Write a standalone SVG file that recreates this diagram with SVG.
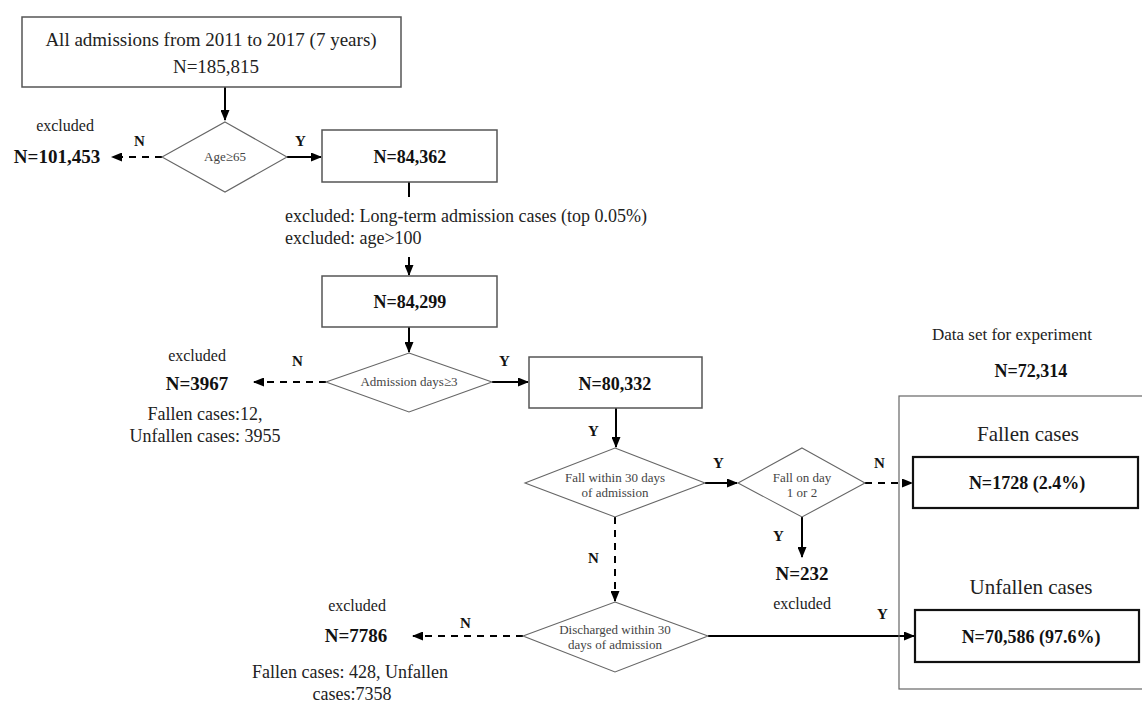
<svg xmlns="http://www.w3.org/2000/svg" width="1142" height="702" viewBox="0 0 1142 702">
<style>
text{font-family:"Liberation Serif","Times New Roman",serif;fill:#222}
.c{text-anchor:middle}
.b{font-weight:bold;fill:#111}
.lbl{font-weight:bold;font-size:15px;fill:#111}
.box{fill:#fff;stroke:#555;stroke-width:1.5}
.fbox{fill:#fff;stroke:#111;stroke-width:2.2}
.dia{fill:#fff;stroke:#666;stroke-width:1.1}
.dt{font-size:13px;fill:#444}
.ln{fill:none;stroke:#000;stroke-width:2}
.ds{fill:none;stroke:#000;stroke-width:2;stroke-dasharray:7 6}
</style>
<defs>
<marker id="ah" markerUnits="userSpaceOnUse" markerWidth="11" markerHeight="9" refX="10" refY="4.5" orient="auto">
<path d="M0,0 L11,4.5 L0,9 z" fill="#000"/>
</marker>
</defs>

<g id="connectors">
<path class="ln" d="M225,87 V120" marker-end="url(#ah)"/>
<path class="ln" d="M287,157 H321" marker-end="url(#ah)"/>
<path class="ds" d="M162,157 H112" marker-end="url(#ah)"/>
<path class="ln" d="M409,182 V197"/>
<path class="ln" d="M409,257 V275" marker-end="url(#ah)"/>
<path class="ln" d="M409,327 V352" marker-end="url(#ah)"/>
<path class="ln" d="M492,382 H528" marker-end="url(#ah)"/>
<path class="ds" d="M326,382 H254" marker-end="url(#ah)"/>
<path class="ln" d="M616,408 V447" marker-end="url(#ah)"/>
<path class="ln" d="M705,483 H737" marker-end="url(#ah)"/>
<path class="ds" d="M865,483 H912" marker-end="url(#ah)"/>
<path class="ln" d="M802,517 V557" marker-end="url(#ah)"/>
<path class="ds" d="M615,517 V601" marker-end="url(#ah)"/>
<path class="ln" d="M708,636 H914" marker-end="url(#ah)"/>
<path class="ds" d="M523,636 H413" marker-end="url(#ah)"/>
</g>

<g id="start">
<rect class="box" x="22" y="17" width="379" height="70"/>
<text class="c" x="211" y="46" font-size="19">All admissions from 2011 to 2017 (7 years)</text>
<text class="c" x="216" y="73" font-size="19">N=185,815</text>
</g>

<g id="age">
<polygon class="dia" points="225,122 287,157 225,192 162,157"/>
<text class="c dt" x="225" y="161" font-size="14">Age≥65</text>
<text class="lbl" x="134" y="146">N</text>
<text class="lbl" x="295" y="146">Y</text>
</g>

<g id="excl1">
<text class="c" x="65" y="131" font-size="16">excluded</text>
<text class="c b" x="57" y="163" font-size="19">N=101,453</text>
</g>

<g id="n84362">
<rect class="box" x="322" y="130" width="175" height="52"/>
<text class="c b" x="410" y="163" font-size="18">N=84,362</text>
</g>

<g id="excl2">
<text x="285" y="222" font-size="18">excluded: Long-term admission cases (top 0.05%)</text>
<text x="285" y="244" font-size="18">excluded: age&gt;100</text>
</g>

<g id="n84299">
<rect class="box" x="322" y="276" width="175" height="51"/>
<text class="c b" x="410" y="308" font-size="18">N=84,299</text>
</g>

<g id="admdays">
<polygon class="dia" points="409,353 492,382 409,412 326,382"/>
<text class="c dt" x="409" y="386">Admission days≥3</text>
<text class="lbl" x="292" y="366">N</text>
<text class="lbl" x="499" y="366">Y</text>
</g>

<g id="excl3">
<text class="c" x="197" y="361" font-size="16">excluded</text>
<text class="c b" x="197" y="390" font-size="19">N=3967</text>
<text class="c" x="205" y="420" font-size="18">Fallen cases:12,</text>
<text class="c" x="205" y="442" font-size="18">Unfallen cases: 3955</text>
</g>

<g id="n80332">
<rect class="box" x="529" y="357" width="173" height="51"/>
<text class="c b" x="615" y="390" font-size="18">N=80,332</text>
<text class="lbl" x="588" y="436">Y</text>
</g>

<g id="fall30">
<polygon class="dia" points="615,448 705,483 615,517 525,483"/>
<text class="c dt" x="615" y="482">Fall within 30 days</text>
<text class="c dt" x="615" y="497">of admission</text>
<text class="lbl" x="713" y="468">Y</text>
<text class="lbl" x="588" y="563">N</text>
</g>

<g id="fallday">
<polygon class="dia" points="802,448 865,483 802,517 738,483"/>
<text class="c dt" x="802" y="482">Fall on day</text>
<text class="c dt" x="802" y="497">1 or 2</text>
<text class="lbl" x="874" y="468">N</text>
<text class="lbl" x="773" y="541">Y</text>
</g>

<g id="excl232">
<text class="c b" x="802" y="580" font-size="19">N=232</text>
<text class="c" x="802" y="609" font-size="16">excluded</text>
</g>

<g id="discharged">
<polygon class="dia" points="615,602 708,636 615,672 523,636"/>
<text class="c dt" x="615" y="634">Discharged within 30</text>
<text class="c dt" x="615" y="649">days of admission</text>
<text class="lbl" x="460" y="628">N</text>
<text class="lbl" x="877" y="619">Y</text>
</g>

<g id="excl4">
<text class="c" x="357" y="611" font-size="16">excluded</text>
<text class="c b" x="356" y="642" font-size="19">N=7786</text>
<text class="c" x="350" y="678" font-size="18">Fallen cases: 428, Unfallen</text>
<text class="c" x="352" y="700" font-size="18">cases:7358</text>
</g>

<g id="dataset">
<text class="c" x="1012" y="340" font-size="17">Data set for experiment</text>
<text class="c b" x="1031" y="377" font-size="18">N=72,314</text>
<rect x="899" y="396" width="250" height="293" fill="none" stroke="#666" stroke-width="1.2"/>
</g>

<g id="fallen">
<text class="c" x="1028" y="441" font-size="21">Fallen cases</text>
<rect class="fbox" x="913" y="457" width="225" height="51"/>
<text class="c b" x="1027" y="489" font-size="18">N=1728 (2.4%)</text>
</g>

<g id="unfallen">
<text class="c" x="1031" y="594" font-size="21">Unfallen cases</text>
<rect class="fbox" x="915" y="610" width="224" height="52"/>
<text class="c b" x="1031" y="643" font-size="18">N=70,586 (97.6%)</text>
</g>
</svg>
